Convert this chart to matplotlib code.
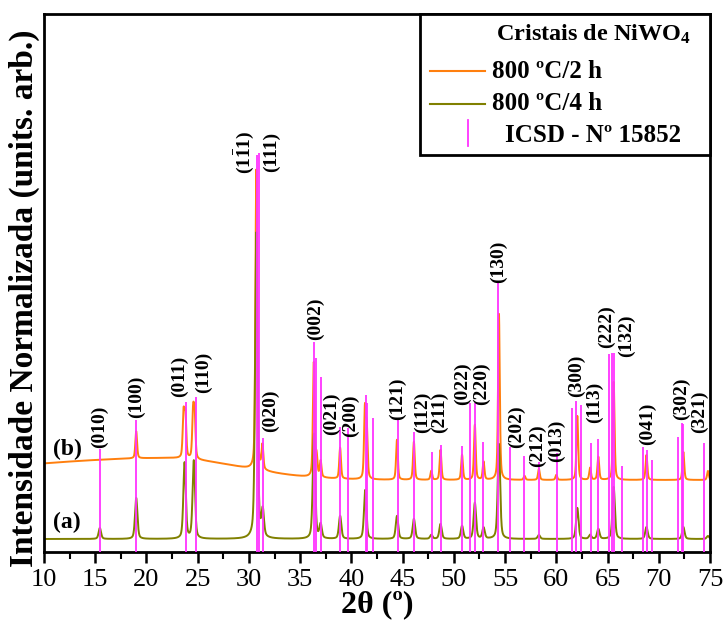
import numpy as np
import matplotlib
matplotlib.use("Agg")
import matplotlib.pyplot as plt
from matplotlib.lines import Line2D
from matplotlib.patches import Rectangle

plt.rcParams['font.family'] = ['Liberation Serif', 'DejaVu Serif']
plt.rcParams['mathtext.fontset'] = 'custom'
plt.rcParams['mathtext.rm'] = 'Liberation Serif'
plt.rcParams['mathtext.bf'] = 'Liberation Serif:bold'
plt.rcParams['mathtext.it'] = 'Liberation Serif:italic'

# ---------------- data (intensity in arbitrary units) ----------------
# ICSD No 15852 reference lines
icsd_pos = [15.43, 18.98, 23.83, 24.87, 30.76, 30.95, 31.40, 36.38, 36.55, 37.00,
            38.92, 39.70, 41.40, 41.55, 42.14, 44.52, 46.14, 47.83, 48.71, 50.83,
            51.55, 52.04, 52.88, 54.34, 55.48, 56.88, 58.34, 60.04, 61.56, 61.92,
            62.41, 63.35, 64.10, 65.17, 65.44, 65.63, 66.41, 68.49, 68.88, 69.37,
            71.91, 72.24, 72.37, 74.39]
icsd_int = [103, 132, 150, 155, 397, 399, 114, 210, 194, 175,
            125, 124, 157, 149, 134, 132, 120, 100, 107, 106,
            149, 149, 110, 270, 105, 96, 90, 99, 144, 151,
            147, 109, 113, 198, 199, 199, 86, 105, 102, 92,
            115, 129, 128, 109]

# 800 C / 2 h  (curve b) : peak positions, peak heights above background
b_pos = [19.00, 23.62, 23.80, 24.55, 24.70, 30.72, 31.32, 36.33, 36.60, 37.00,
         38.90, 41.32, 41.50, 44.45, 46.10, 47.80, 48.70, 50.80, 52.05, 52.90,
         54.40, 56.90, 58.30, 60.00, 62.05, 63.30, 64.10, 65.60, 68.80, 72.40, 74.80]
b_int = [27, 44, 42, 44, 42, 300, 24, 114, 20, 16,
         31, 68, 48, 40, 38, 9, 30, 25, 55, 18,
         166, 4, 11, 5, 64, 12, 23, 98, 25, 28, 9]
b_base = 72          # flat background level at high angle
b_hump = 22          # broad amorphous hump height
b_hump_center = 22.0
b_hump_sigma = (16.0, 7.0)
b_fwhm = 0.2

# 800 C / 4 h  (curve a)
a_pos = [15.45, 19.00, 23.72, 24.62, 30.72, 31.35, 36.35, 37.00, 38.90, 41.35,
         44.45, 46.10, 47.80, 48.70, 50.80, 52.05, 52.90, 54.40, 58.30, 62.05,
         63.30, 64.10, 65.60, 68.80, 72.40, 74.80]
a_int = [11, 41, 76, 78, 306, 26, 105, 14, 23, 49,
         23, 20, 4, 15, 13, 36, 11, 95, 4, 31,
         4, 10, 52, 12, 12, 3]
a_base = 13
a_fwhm = 0.28
eta = 0.45   # Lorentzian fraction of the pseudo-Voigt peak shape

# Miller index labels: text, x position (deg), bottom of label (a.u.)
hkl_text = ['(010)', '(100)', '(011)', '(110)', r'(1$\mathbf{\bar{1}}$1)', '(111)', '(020)',
            '(002)', '(021)', '(200)', '(121)', '(112)', '(211)', '(022)', '(220)',
            '(130)', '(202)', '(212)', '(013)', '(300)', '(113)', '(222)', '(132)',
            '(041)', '(302)', '(321)']
hkl_x = [15.45, 19.05, 23.27, 25.55, 29.52, 32.20, 32.06,
         36.45, 38.08, 39.87, 44.48, 46.95, 48.58, 50.85, 52.71,
         54.34, 56.13, 58.15, 59.97, 61.92, 63.71, 64.85, 66.87,
         68.88, 72.24, 73.96]
hkl_y = [104, 134, 155, 159, 378, 380, 120,
         212, 117, 115, 132, 119, 119, 147, 147,
         269, 104, 85, 90, 155, 129, 204, 195,
         107, 132, 119]

x_min, x_max = 10, 75
x_ticks = [10, 15, 20, 25, 30, 35, 40, 45, 50, 55, 60, 65, 70, 75]

# ---------------- build profiles ----------------
tt = np.linspace(x_min, x_max, 6501)

def pvoigt(x, pos, amp, fwhm):
    hw = fwhm / 2.0
    lor = 1.0 / (1.0 + ((x - pos) / hw) ** 2)
    gau = np.exp(-np.log(2) * ((x - pos) / hw) ** 2)
    return amp * (eta * lor + (1 - eta) * gau)

def pattern(pos, amp, fwhm):
    y = np.zeros_like(tt)
    for p, h in zip(pos, amp):
        y += pvoigt(tt, p, h, fwhm)
    return y

sig = np.where(tt < b_hump_center, b_hump_sigma[0], b_hump_sigma[1])
b_bg = b_base + b_hump * np.exp(-0.5 * ((tt - b_hump_center) / sig) ** 2)
curve_b = b_bg + pattern(b_pos, b_int, b_fwhm)
curve_a = a_base + pattern(a_pos, a_int, a_fwhm)

# ---------------- figure ----------------
W, H = 723, 624
fig = plt.figure(figsize=(W / 100, H / 100), dpi=100)
ax = fig.add_axes([44 / W, 1 - 552 / H, 666 / W, 538 / H])

col_b = '#FF7F0E'
col_a = '#808000'
col_ref = '#FF33FF'

ax.plot(tt, curve_b, color=col_b, lw=1.4, zorder=2)
ax.plot(tt, curve_a, color=col_a, lw=1.4, zorder=2)
ax.vlines(icsd_pos, 0, icsd_int, color=col_ref, lw=1.3, zorder=3)

for t, x, y in zip(hkl_text, hkl_x, hkl_y):
    ax.text(x, y, t, rotation=90, ha='center', va='bottom', fontsize=14,
            fontweight='bold', color='black', zorder=4)

ax.text(12.25, 103, '(b)', fontsize=17, fontweight='bold', ha='center', va='center')
ax.text(12.25, 29.5, '(a)', fontsize=17, fontweight='bold', ha='center', va='center')

ax.set_xlim(x_min, x_max)
ax.set_ylim(0, 538)
ax.set_xticks(x_ticks)
ax.set_xticks(np.arange(12.5, 75, 5), minor=True)
ax.set_yticks([])
ax.tick_params(axis='x', which='major', direction='out', length=8, width=1.8,
               labelsize=19, pad=4)
ax.tick_params(axis='x', which='minor', direction='out', length=5, width=1.5)
for s in ax.spines.values():
    s.set_linewidth(2.0)

ax.set_xlabel('2θ (º)', fontsize=23, fontweight='bold', labelpad=0)
fig.text(24 / W, 1 - 298 / H, 'Intensidade Normalizada (units. arb.)', rotation=90,
         fontsize=24, fontweight='bold', ha='center', va='center')

# ---------------- legend box (manual) ----------------
def axc(px, py):
    return ((px - 44) / 666, (552 - py) / 538)

x0, y0 = axc(420, 155)
ax.add_patch(Rectangle((x0, y0), 1 - x0, 1 - y0, transform=ax.transAxes,
                       facecolor='white', edgecolor='black', lw=2.0, zorder=5,
                       clip_on=False))
tx, ty = axc(594, 34)
ax.text(tx, ty, r'Cristais de NiWO$_\mathbf{4}$', transform=ax.transAxes,
        fontsize=17.5, fontweight='bold', ha='center', va='center', zorder=6)
for (py, col, label) in [(71.3, col_b, '800 ºC/2 h'), (104, col_a, '800 ºC/4 h')]:
    lx0, ly = axc(430, py)
    lx1, _ = axc(485, py)
    ax.add_line(Line2D([lx0, lx1], [ly, ly], transform=ax.transAxes, color=col,
                       lw=1.5, zorder=6))
    tx, ty = axc(492, py)
    ax.text(tx, ty, label, transform=ax.transAxes, fontsize=18, fontweight='bold',
            ha='left', va='center', zorder=6)
mx, my0 = axc(468, 146)
_, my1 = axc(468, 120)
ax.add_line(Line2D([mx, mx], [my0, my1], transform=ax.transAxes, color=col_ref,
                   lw=1.3, zorder=6))
tx, ty = axc(505, 135)
ax.text(tx, ty, 'ICSD - Nº 15852', transform=ax.transAxes, fontsize=18,
        fontweight='bold', ha='left', va='center', zorder=6)

fig.savefig('out.png', dpi=100)
